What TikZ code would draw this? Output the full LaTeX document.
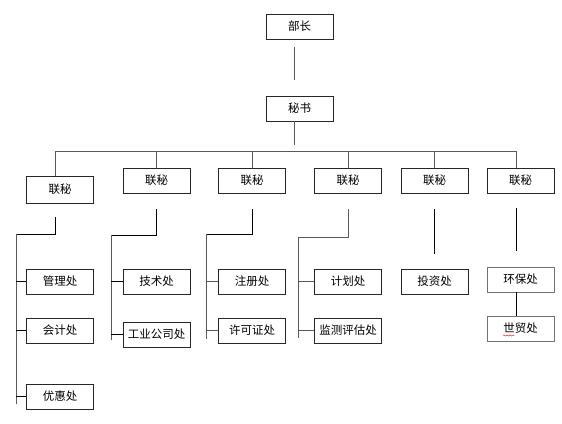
\documentclass[tikz,border=0pt]{standalone}
\usepackage{fontspec}
\newfontfamily\cjk{Noto Sans CJK SC}
\usepackage{tikz}
\usetikzlibrary{decorations.pathmorphing}

\begin{document}
\begin{tikzpicture}[x=1pt,y=-1pt,
  box/.style={draw=black!85, line width=0.6pt, minimum width=67pt, minimum height=25pt,
    inner sep=0pt, font=\cjk\fontsize{11.5}{13}\selectfont},
  conn/.style={draw=black!65, line width=0.6pt}]

\useasboundingbox (0,0) rectangle (562,423);

% 部长与秘书
\node[box] (bz) at (299.5,26.5) {部长};
\node[box] (ms) at (299.5,108.5) {秘书};
\draw[conn, shorten <=8pt, shorten >=16pt] ([xshift=-5.5pt]bz.south) -- ([xshift=-5.5pt]ms.north);

% 联秘
\node[box, minimum height=27pt] (lm1) at (60,189.5) {联秘};
\node[box] (lm2) at (156.5,180.5) {联秘};
\node[box] (lm3) at (252,180.5) {联秘};
\node[box] (lm4) at (348,180.5) {联秘};
\node[box] (lm5) at (434.5,180.5) {联秘};
\node[box] (lm6) at (520.5,180.5) {联秘};

% 横线
\coordinate (bus) at (294,151);
\draw[conn, shorten >=6pt] ([xshift=-5.5pt]ms.south) -- (bus);
\draw[conn] ([xshift=-5pt]lm1.north) |- ([xshift=-4.5pt]lm6.north |- bus) -- ([xshift=-4.5pt]lm6.north);
\foreach \i in {2,...,5}
  \draw[conn] (lm\i.north) -- (lm\i.north |- bus);

% 各处
\node[box] (glc) at (60,281.5) {管理处};
\node[box] (kjc) at (60,330.5) {会计处};
\node[box] (yhc) at (60,396.5) {优惠处};
\node[box] (jsc) at (156.5,281.5) {技术处};
\node[box] (gyc) at (156.5,334.5) {工业公司处};
\node[box] (zcc) at (252,281.5) {注册处};
\node[box] (xkc) at (252,330.5) {许可证处};
\node[box] (jhc) at (348,281.5) {计划处};
\node[box] (jcc) at (348,330.5) {监测评估处};
\node[box] (tzc) at (434.5,281.5) {投资处};
\node[box, draw=black!55] (hbc) at (520.5,279.5) {环保处};
\node[box, draw=black!55] (smc) at (520.5,328.5) {世贸处};

% 分支
\coordinate (g1) at (16,234);
\coordinate (g2) at (111,235);
\coordinate (g3) at (206,234);
\coordinate (g4) at (298,237);

\draw[conn, draw=black] ([xshift=-5pt, yshift=-14pt]lm1.south) |- (g1);
\draw[conn, shorten >=-7pt] (g1) -- (g1 |- yhc.west);
\foreach \b in {glc,kjc,yhc}
  \draw[conn, draw=black] (g1 |- \b.west) -- (\b.west);

\draw[conn, draw=black] ([yshift=-16pt]lm2.south) |- (g2);
\draw[conn, shorten >=-5pt] (g2) -- (g2 |- gyc.west);
\foreach \b in {jsc,gyc}
  \draw[conn, draw=black] (g2 |- \b.west) -- (\b.west);

\draw[conn, draw=black] ([yshift=-16pt]lm3.south) |- (g3);
\draw[conn, shorten >=-8pt] (g3) -- (g3 |- xkc.west);
\foreach \b in {zcc,xkc}
  \draw[conn] (g3 |- \b.west) -- (\b.west);

\draw[conn] ([yshift=-16pt]lm4.south) |- (g4);
\draw[conn, shorten >=-7pt] (g4) -- (g4 |- jcc.west);
\foreach \b in {jhc,jcc}
  \draw[conn] (g4 |- \b.west) -- (\b.west);

\draw[conn, draw=black, shorten <=16pt, shorten >=15pt] (lm5.south) -- (tzc.north);
\draw[conn, draw=black, shorten <=15pt, shorten >=16pt] ([xshift=-4.5pt]lm6.south) -- ([xshift=-4.5pt]hbc.north);
\draw[conn, draw=black] ([xshift=-4.5pt]hbc.south) -- ([xshift=-4.5pt]smc.north);

% 拼写波浪线
\draw[red, line width=0.4pt, decorate, decoration={snake, amplitude=0.6pt, segment length=3pt}]
  ([xshift=-17.5pt, yshift=-7pt]smc.center) -- ([xshift=-6pt, yshift=-7pt]smc.center);

\end{tikzpicture}
\end{document}
